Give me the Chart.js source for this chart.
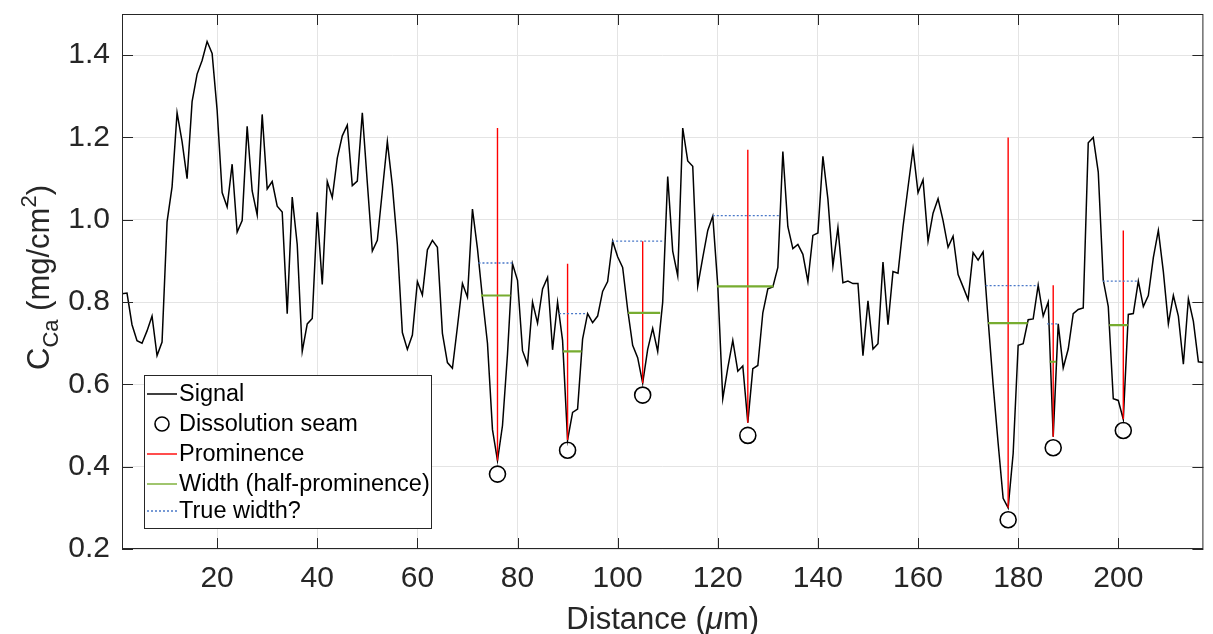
<!DOCTYPE html>
<html>
<head>
<meta charset="utf-8">
<script src="https://cdn.jsdelivr.net/npm/chart.js@4.4.1/dist/chart.umd.min.js"></script>
<style>
  html, body { margin: 0; padding: 0; background: #fff; }
  #wrap { width: 1213px; height: 634px; }
</style>
</head>
<body>
<div id="wrap"><canvas id="seamChart" width="1213" height="634"></canvas></div>
<script>
// Ca profile, one sample per µm starting at 1 µm
const startDistance = 1;
const signal = [
  0.820, 0.822, 0.745, 0.706, 0.700, 0.730, 0.766, 0.670, 0.703, 0.995,
  1.080, 1.260, 1.190, 1.100, 1.287, 1.354, 1.387, 1.433, 1.404, 1.266,
  1.066, 1.031, 1.135, 0.970, 0.998, 1.227, 1.070, 1.012, 1.256, 1.075,
  1.093, 1.033, 1.019, 0.772, 1.055, 0.940, 0.680, 0.747, 0.760, 1.018,
  0.843, 1.093, 1.054, 1.150, 1.204, 1.230, 1.083, 1.094, 1.260, 1.090,
  0.924, 0.950, 1.070, 1.190, 1.083, 0.940, 0.726, 0.685, 0.720, 0.850,
  0.817, 0.927, 0.950, 0.933, 0.724, 0.653, 0.639, 0.740, 0.845, 0.812,
  1.026, 0.930, 0.810, 0.700, 0.490, 0.415, 0.500, 0.674, 0.893, 0.853,
  0.682, 0.649, 0.800, 0.749, 0.832, 0.860, 0.684, 0.800, 0.707, 0.465,
  0.532, 0.540, 0.710, 0.772, 0.750, 0.766, 0.826, 0.850, 0.948, 0.910,
  0.884, 0.782, 0.695, 0.665, 0.603, 0.685, 0.736, 0.680, 0.800, 1.105,
  0.924, 0.864, 1.223, 1.143, 1.130, 0.839, 0.908, 0.974, 1.009, 0.840,
  0.565, 0.640, 0.707, 0.632, 0.645, 0.507, 0.638, 0.646, 0.774, 0.832,
  0.837, 0.884, 1.166, 0.983, 0.930, 0.940, 0.916, 0.850, 0.962, 0.968,
  1.154, 1.050, 0.888, 0.981, 0.847, 0.851, 0.845, 0.845, 0.670, 0.803,
  0.686, 0.699, 0.897, 0.745, 0.874, 0.870, 0.983, 1.079, 1.172, 1.066,
  1.097, 0.948, 1.016, 1.051, 0.998, 0.933, 0.960, 0.867, 0.837, 0.806,
  0.920, 0.902, 0.922, 0.757, 0.599, 0.457, 0.323, 0.300, 0.432, 0.695,
  0.699, 0.757, 0.759, 0.841, 0.766, 0.800, 0.473, 0.747, 0.640, 0.686,
  0.772, 0.782, 0.786, 1.187, 1.200, 1.116, 0.853, 0.789, 0.565, 0.561,
  0.515, 0.770, 0.772, 0.851, 0.789, 0.816, 0.908, 0.974, 0.874, 0.747,
  0.816, 0.766, 0.649, 0.808, 0.753, 0.655, 0.653
];

// dissolution seams (minima)
const seamDistance = [76, 90, 105, 126, 178, 187, 201];
const seamMarker = [0.382, 0.440, 0.574, 0.476, 0.271, 0.446, 0.488];
const prominenceTop = [1.223, 0.893, 0.948, 1.170, 1.200, 0.841, 0.974];

// width at half prominence
const halfLevel = [0.816, 0.680, 0.774, 0.838, 0.749, 0.655, 0.744];
const halfStart = [72.7, 89.1, 102.1, 119.8, 174.0, 186.3, 198.2];
const halfEnd = [78.6, 92.8, 108.5, 131.1, 181.9, 187.6, 201.9];

// "true" width
const trueLevel = [0.895, 0.772, 0.948, 1.010, 0.840, 0.747, 0.851];
const trueStart = [72.2, 88.3, 98.9, 119.0, 173.5, 185.8, 196.9];
const trueEnd = [79.0, 93.9, 109.3, 132.5, 184.0, 187.9, 204.0];

const xTicks = [20, 40, 60, 80, 100, 120, 140, 160, 180, 200];
const yTicks = [0.2, 0.4, 0.6, 0.8, 1.0, 1.2, 1.4];

const FONT = '"Liberation Sans", Arial, Helvetica, sans-serif';
const INK = '#262626';

let signalPts = signal.map((v, i) => ({ x: startDistance + i, y: v }));
let seamPts = seamDistance.map((d, i) => ({ x: d, y: seamMarker[i] }));

let promPts = [];
seamDistance.forEach((d, i) => {
  promPts.push({ x: d, y: signal[d - startDistance] }, { x: d, y: prominenceTop[i] }, { x: d, y: null });
});
let halfPts = [];
halfLevel.forEach((lv, i) => {
  halfPts.push({ x: halfStart[i], y: lv }, { x: halfEnd[i], y: lv }, { x: halfEnd[i], y: null });
});
let truePts = [];
trueLevel.forEach((lv, i) => {
  truePts.push({ x: trueStart[i], y: lv }, { x: trueEnd[i], y: lv }, { x: trueEnd[i], y: null });
});

// text with sub/superscripts, parts laid out along the baseline
function richText(ctx, parts, cx, baseY) {
  let total = 0;
  parts.forEach(p => {
    ctx.font = (p.italic ? 'italic ' : '') + p.size + 'px ' + FONT;
    p.w = ctx.measureText(p.t).width;
    total += p.w;
  });
  let x = cx - total / 2;
  ctx.textAlign = 'left';
  ctx.textBaseline = 'alphabetic';
  parts.forEach(p => {
    ctx.font = (p.italic ? 'italic ' : '') + p.size + 'px ' + FONT;
    ctx.fillText(p.t, x, baseY + (p.dy || 0));
    x += p.w;
  });
}

const axesDecor = {
  id: 'axesDecor',
  afterDatasetsDraw(chart) {
    const { ctx, chartArea: a, scales } = chart;
    const xs = scales.x, ys = scales.y;
    ctx.save();
    ctx.strokeStyle = INK;
    ctx.lineWidth = 1;
    ctx.beginPath();
    xTicks.forEach(v => {
      const px = Math.round(xs.getPixelForValue(v)) + 0.5;
      ctx.moveTo(px, a.bottom); ctx.lineTo(px, a.bottom - 11);
      ctx.moveTo(px, a.top); ctx.lineTo(px, a.top + 11);
    });
    yTicks.forEach(v => {
      const py = Math.round(ys.getPixelForValue(v)) + 0.5;
      ctx.moveTo(a.left, py); ctx.lineTo(a.left + 11, py);
      ctx.moveTo(a.right, py); ctx.lineTo(a.right - 11, py);
    });
    ctx.stroke();
    ctx.strokeRect(a.left + 0.5, a.top + 0.5, a.width - 1, a.height - 1);

    // axis titles
    ctx.fillStyle = INK;
    richText(ctx, [
      { t: 'Distance (', size: 31 },
      { t: 'μ', size: 31, italic: true },
      { t: 'm)', size: 31 }
    ], (a.left + a.right) / 2, 629);

    ctx.save();
    ctx.translate(49, (a.top + a.bottom) / 2 - 4);
    ctx.rotate(-Math.PI / 2);
    richText(ctx, [
      { t: 'C', size: 31 },
      { t: 'Ca', size: 22, dy: 9 },
      { t: ' (mg/cm', size: 31 },
      { t: '2', size: 22, dy: -13 },
      { t: ')', size: 31 }
    ], 0, 0);
    ctx.restore();

    // legend box
    const lx = 144.5, ly = 375.5, lw = 287, lh = 153;
    ctx.fillStyle = '#ffffff';
    ctx.fillRect(lx, ly, lw, lh);
    ctx.strokeStyle = INK;
    ctx.lineWidth = 1;
    ctx.strokeRect(lx, ly, lw, lh);
    const rowY = [394, 424, 454, 484, 511];
    chart.data.datasets.forEach((ds, i) => {
      const cy = rowY[i];
      ctx.save();
      ctx.strokeStyle = ds.borderColor;
      ctx.lineWidth = ds.legendWidth || ds.borderWidth;
      if (ds.showLine === false) {
        ctx.beginPath();
        ctx.arc(162, cy, 7, 0, Math.PI * 2);
        ctx.stroke();
      } else {
        ctx.setLineDash(ds.borderDash || []);
        ctx.beginPath();
        ctx.moveTo(147, cy); ctx.lineTo(177, cy);
        ctx.stroke();
      }
      ctx.restore();
      ctx.fillStyle = '#000000';
      ctx.font = '23.5px ' + FONT;
      ctx.textAlign = 'left';
      ctx.textBaseline = 'middle';
      ctx.fillText(ds.label, 179, cy + 1);
    });
    ctx.restore();
  }
};

new Chart(document.getElementById('seamChart'), {
  type: 'line',
  data: {
    datasets: [
      { label: 'Signal', data: signalPts, borderColor: '#000000', borderWidth: 1.5,
        pointRadius: 0, tension: 0, order: 4 },
      { label: 'Dissolution seam', data: seamPts, showLine: false, borderColor: '#000000',
        backgroundColor: 'rgba(0,0,0,0)', borderWidth: 1.6, pointRadius: 8, pointStyle: 'circle', order: 3 },
      { label: 'Prominence', data: promPts, borderColor: '#ff0000', borderWidth: 1.4,
        pointRadius: 0, spanGaps: false, order: 2 },
      { label: 'Width (half-prominence)', data: halfPts, borderColor: '#77ac30', borderWidth: 2.2,
        legendWidth: 1.4, pointRadius: 0, spanGaps: false, order: 1 },
      { label: 'True width?', data: truePts, borderColor: '#4a78c8', borderWidth: 1.4,
        borderDash: [2, 2], pointRadius: 0, spanGaps: false, order: 0 }
    ]
  },
  options: {
    responsive: false,
    animation: false,
    devicePixelRatio: 1,
    layout: { padding: { top: 14, right: 1, left: 0, bottom: 0 } },
    plugins: { legend: { display: false }, tooltip: { enabled: false } },
    scales: {
      x: {
        type: 'linear', min: 1, max: 217,
        afterBuildTicks: s => { s.ticks = xTicks.map(v => ({ value: v })); },
        afterFit: s => { s.height = 85; s.paddingLeft = 0; s.paddingRight = 0; },
        grid: { color: '#e4e4e4', lineWidth: 1, drawTicks: false },
        border: { display: false },
        ticks: { color: INK, font: { family: FONT, size: 30 }, padding: 12, maxRotation: 0, autoSkip: false,
          callback: v => String(v) }
      },
      y: {
        type: 'linear', min: 0.2, max: 1.5,
        afterBuildTicks: s => { s.ticks = yTicks.map(v => ({ value: v })); },
        afterFit: s => { s.width = 122; s.paddingTop = 0; s.paddingBottom = 0; },
        grid: { color: '#e4e4e4', lineWidth: 1, drawTicks: false },
        border: { display: false },
        ticks: { color: INK, font: { family: FONT, size: 30 }, padding: 12,
          callback: v => v.toFixed(1) }
      }
    }
  },
  plugins: [axesDecor]
});
</script>
</body>
</html>
